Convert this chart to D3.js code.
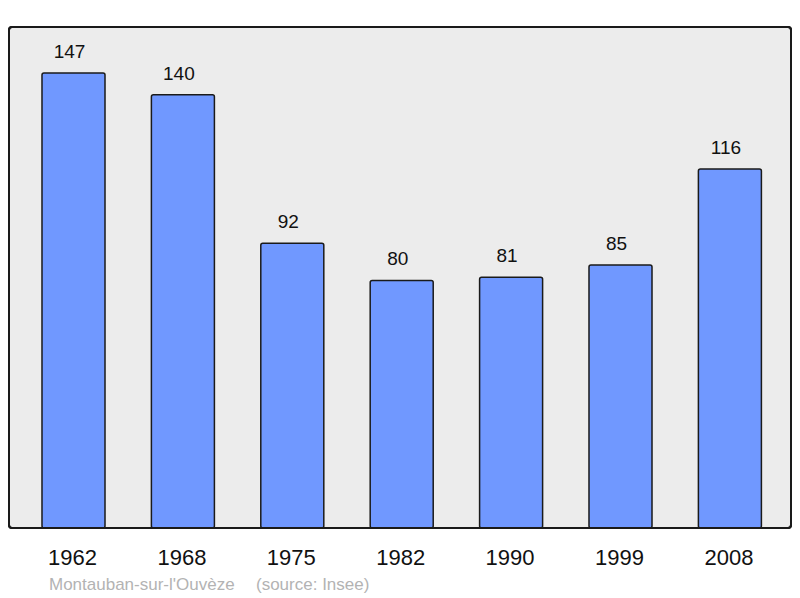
<!DOCTYPE html>
<meta charset="utf-8">
<style>
  html, body { margin: 0; padding: 0; background: #fff; }
  svg { display: block; font-family: "Liberation Sans", Arial, sans-serif; }
  .panel { fill: #ececec; stroke: #1a1a1a; stroke-width: 2; }
  .bar { fill: #7098ff; stroke: #1a1a1a; stroke-width: 1.5; }
  .val { font-size: 19px; fill: #111; text-anchor: middle; }
  .year { font-size: 22px; fill: #111; text-anchor: middle; }
  .foot { font-size: 17px; fill: #b3b3b3; }
</style>
<body>
<script src="https://cdnjs.cloudflare.com/ajax/libs/d3/7.8.5/d3.min.js"></script>
<script>
var years = ["1962", "1968", "1975", "1982", "1990", "1999", "2008"];
var population = [147, 140, 92, 80, 81, 85, 116];

var width = 800, height = 598;

var svg = d3.select("body").append("svg")
  .attr("width", width)
  .attr("height", height);

// background panel
svg.append("rect")
  .attr("class", "panel")
  .attr("x", 9).attr("y", 27)
  .attr("width", 782).attr("height", 501)
  .attr("rx", 3).attr("ry", 3);

var x = d3.scaleBand()
  .domain(years)
  .range([18.8, 784.6])
  .paddingInner(0.424)
  .paddingOuter(0.212);

var y = d3.scaleLinear()
  .domain([0, 147])
  .range([528, 73]);

svg.append("g").selectAll("rect")
  .data(population)
  .enter().append("rect")
    .attr("class", "bar")
    .attr("x", function(d, i) { return x(years[i]); })
    .attr("y", function(d) { return y(d); })
    .attr("width", x.bandwidth())
    .attr("height", function(d) { return y(0) - y(d); })
    .attr("rx", 2).attr("ry", 2);

svg.append("g").selectAll("text")
  .data(population)
  .enter().append("text")
    .attr("class", "val")
    .attr("x", function(d, i) { return x(years[i]) + x.bandwidth() / 2 - 4; })
    .attr("y", function(d) { return y(d) - 15; })
    .text(function(d) { return d; });

// redraw panel border on top so bar bottoms sit on it
svg.append("rect")
  .attr("x", 9).attr("y", 27)
  .attr("width", 782).attr("height", 501)
  .attr("rx", 3).attr("ry", 3)
  .attr("fill", "none").attr("stroke", "#1a1a1a").attr("stroke-width", 2);

svg.append("g").selectAll("text")
  .data(years)
  .enter().append("text")
    .attr("class", "year")
    .attr("x", function(d) { return x(d) + x.bandwidth() / 2 - 1; })
    .attr("y", 565)
    .text(function(d) { return d; });

svg.append("text").attr("class", "foot")
  .attr("x", 49).attr("y", 590)
  .text("Montauban-sur-l'Ouvèze");

svg.append("text").attr("class", "foot")
  .attr("x", 256).attr("y", 590)
  .text("(source: Insee)");
</script>
</body>
